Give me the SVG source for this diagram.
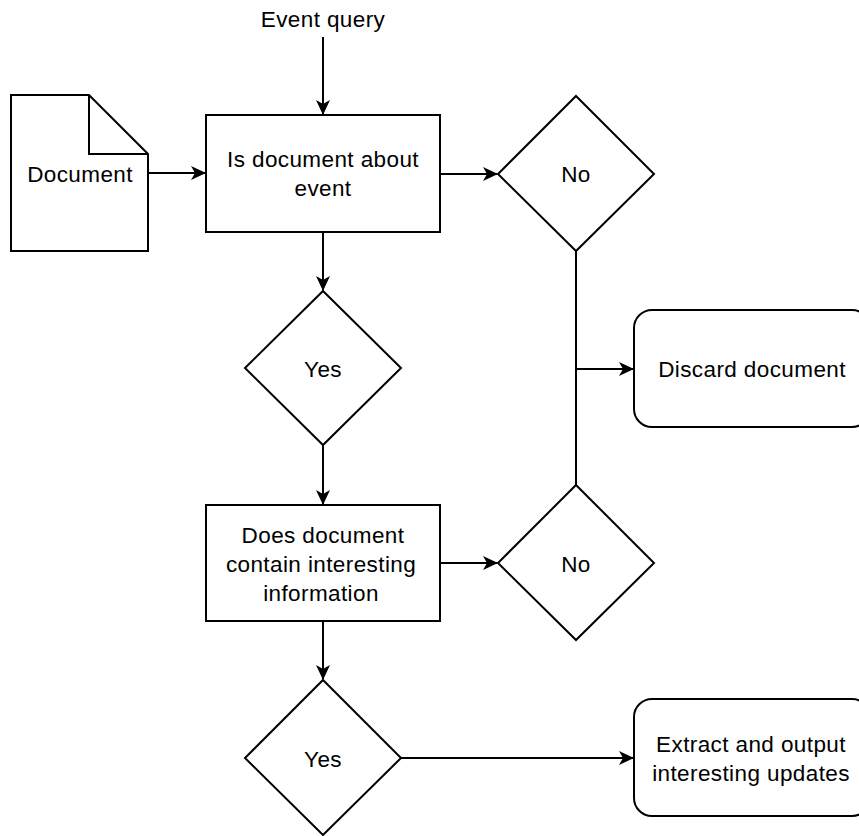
<svg xmlns="http://www.w3.org/2000/svg" width="859" height="836" viewBox="0 0 859 836">
<defs>
<marker id="arr" markerWidth="16" markerHeight="14" refX="14" refY="7" orient="auto" markerUnits="userSpaceOnUse">
<path d="M0,0 L15,7 L0,14 L4,7 Z" fill="#000"/>
</marker>
<style>
.s{fill:#fff;stroke:#000;stroke-width:2}
.c{fill:none;stroke:#000;stroke-width:2}
text{font-family:"Liberation Sans",Arial,sans-serif;font-size:22.5px;letter-spacing:0.4px;fill:#000;text-anchor:middle}
</style>
</defs>
<rect width="859" height="836" fill="#fff"/>
<g id="connectors">
<line class="c" x1="323" y1="37" x2="323" y2="114" marker-end="url(#arr)"/>
<line class="c" x1="148" y1="173" x2="205" y2="173" marker-end="url(#arr)"/>
<line class="c" x1="440" y1="174" x2="497" y2="174" marker-end="url(#arr)"/>
<line class="c" x1="576" y1="251" x2="576" y2="485"/>
<line class="c" x1="576" y1="369" x2="633" y2="369" marker-end="url(#arr)"/>
<line class="c" x1="323" y1="232" x2="323" y2="290" marker-end="url(#arr)"/>
<line class="c" x1="323" y1="445" x2="323" y2="504" marker-end="url(#arr)"/>
<line class="c" x1="440" y1="563" x2="497" y2="563" marker-end="url(#arr)"/>
<line class="c" x1="323" y1="621" x2="323" y2="679" marker-end="url(#arr)"/>
<line class="c" x1="401" y1="758" x2="633" y2="758" marker-end="url(#arr)"/>
</g>
<g id="event-query"><text x="323" y="27">Event query</text></g>
<g id="document">
<path class="s" d="M11,95 H89 L148,154 V251 H11 Z"/>
<path class="c" d="M89,95 V154 H148"/>
<text x="80" y="182">Document</text>
</g>
<g id="is-about-event">
<rect class="s" x="206" y="115" width="234" height="117"/>
<text x="323" y="167">Is document about</text>
<text x="323" y="196">event</text>
</g>
<g id="no1">
<path class="s" d="M576,96 L654,174 L576,251 L498,174 Z"/>
<text x="576" y="182">No</text>
</g>
<g id="discard">
<rect class="s" x="634" y="310" width="236" height="117" rx="18"/>
<text x="752" y="377">Discard document</text>
</g>
<g id="yes1">
<path class="s" d="M323,291 L401,368 L323,445 L245,368 Z"/>
<text x="323" y="377">Yes</text>
</g>
<g id="contains-info">
<rect class="s" x="206" y="505" width="234" height="116"/>
<text x="323" y="543">Does document</text>
<text x="321" y="572">contain interesting</text>
<text x="321" y="601">information</text>
</g>
<g id="no2">
<path class="s" d="M576,485 L654,563 L576,640 L498,563 Z"/>
<text x="576" y="572">No</text>
</g>
<g id="yes2">
<path class="s" d="M323,680 L401,758 L323,835 L245,758 Z"/>
<text x="323" y="767">Yes</text>
</g>
<g id="extract">
<rect class="s" x="634" y="699" width="236" height="117" rx="18"/>
<text x="751" y="752">Extract and output</text>
<text x="751" y="781">interesting updates</text>
</g>
</svg>
